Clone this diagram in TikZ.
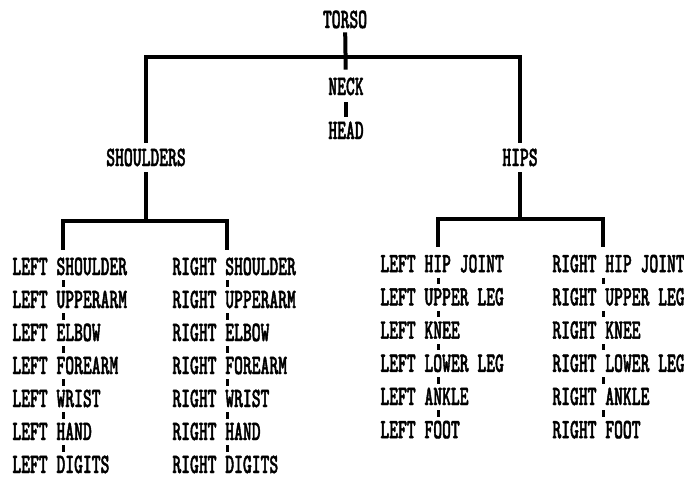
\documentclass[tikz,border=0pt]{standalone}
\usepackage{fontspec}
\usepackage{tikz}
\newfontfamily\chartfont[FakeStretch=0.6, FakeBold=1.5]{lmmonolt10-bold.otf}

\begin{document}
\begin{tikzpicture}[x=0.5pt, y=-0.5pt,
      part/.style={inner sep=0pt, text height=8pt, text depth=0pt,
                   font=\chartfont\fontsize{14}{14}\selectfont},
      item/.style={part, anchor=west},
      limb/.style={draw=black, line width=2pt},
      joint/.style={draw=black, line width=1.5pt, shorten <=2.5pt, shorten >=2.5pt}
    ]
    \useasboundingbox (0,0) rectangle (684,478);

    \node[part] (torso)     at (345, 20)  {TORSO};
    \node[part] (neck)      at (346, 87)  {NECK};
    \node[part] (head)      at (346, 131) {HEAD};
    \node[part] (shoulders) at (146, 158) {SHOULDERS};
    \node[part] (hips)      at (520, 158) {HIPS};

    \coordinate (spine)  at (345, 57);
    \coordinate (armbar) at (146, 221);
    \coordinate (legbar) at (520, 219);
    \coordinate (lacol)  at (63, 0);
    \coordinate (racol)  at (227, 0);
    \coordinate (llcol)  at (438, 0);
    \coordinate (rlcol)  at (603, 0);

    \foreach \p [count=\i] in {SHOULDER, UPPERARM, ELBOW, FOREARM, WRIST, HAND, DIGITS}{
      \node[item] (la\i) at (12,  234+33*\i) {LEFT \p};
      \node[item] (ra\i) at (172, 234+33*\i) {RIGHT \p};
    }
    \foreach \p [count=\i] in {HIP JOINT, UPPER LEG, KNEE, LOWER LEG, ANKLE, FOOT}{
      \node[item] (ll\i) at (380, 231+33.2*\i) {LEFT \p};
      \node[item] (rl\i) at (552, 231+33.2*\i) {RIGHT \p};
    }

    \draw[limb, shorten <=2pt, shorten >=4.5pt] (torso) -- (neck);
    \draw[limb, shorten <=3.5pt, shorten >=3pt] (neck) -- (head);
    \draw[limb, shorten <=3.5pt, shorten >=3.5pt] (shoulders.north) |- (spine) -| (hips.north);

    \draw[limb, shorten <=3pt] (shoulders.south) -- (armbar);
    \draw[limb, shorten <=4.5pt, shorten >=4.5pt] (la1.north -| lacol) |- (armbar) -| (ra1.north -| racol);
    \draw[limb, shorten <=3pt] (hips.south) -- (legbar);
    \draw[limb, shorten <=4.5pt, shorten >=4.5pt] (ll1.north -| llcol) |- (legbar) -| (rl1.north -| rlcol);

    \foreach \i in {1,...,6}{
      \pgfmathtruncatemacro\j{\i+1}
      \draw[joint] (la\i.south -| lacol) -- (la\j.north -| lacol);
      \draw[joint] (ra\i.south -| racol) -- (ra\j.north -| racol);
    }
    \foreach \i in {1,...,5}{
      \pgfmathtruncatemacro\j{\i+1}
      \draw[joint] (ll\i.south -| llcol) -- (ll\j.north -| llcol);
      \draw[joint] (rl\i.south -| rlcol) -- (rl\j.north -| rlcol);
    }
  \end{tikzpicture}
\end{document}
